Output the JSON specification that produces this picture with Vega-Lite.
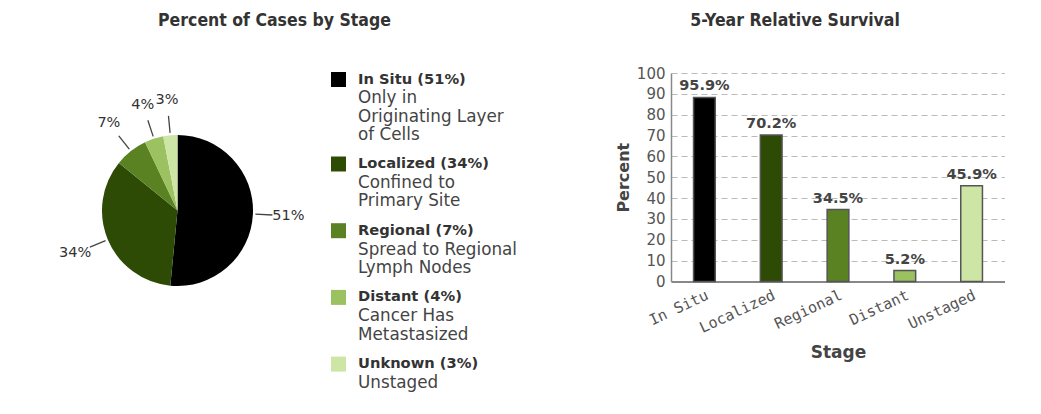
{
  "$schema": "https://vega.github.io/schema/vega-lite/v6.json",
  "background": "white",
  "padding": {"left": 24, "top": 11, "right": 0, "bottom": 0},
  "config": {
    "view": {"stroke": null},
    "font": "DejaVu Sans",
    "title": {"font": "DejaVu Sans Condensed, DejaVu Sans", "fontSize": 17.5, "fontWeight": "bold", "color": "#333333"}
  },
  "datasets": {
    "cases": [
      {"stage": "In Situ", "pct": 0.51, "title": "In Situ (51%)", "desc": ["Only in", "Originating Layer", "of Cells"]},
      {"stage": "Localized", "pct": 0.34, "title": "Localized (34%)", "desc": ["Confined to", "Primary Site"]},
      {"stage": "Regional", "pct": 0.07, "title": "Regional (7%)", "desc": ["Spread to Regional", "Lymph Nodes"]},
      {"stage": "Distant", "pct": 0.04, "title": "Distant (4%)", "desc": ["Cancer Has", "Metastasized"]},
      {"stage": "Unknown", "pct": 0.03, "title": "Unknown (3%)", "desc": ["Unstaged"]}
    ],
    "survival": [
      {"stage": "In Situ", "survival": 0.959, "shown": 88.3},
      {"stage": "Localized", "survival": 0.702, "shown": 70.2},
      {"stage": "Regional", "survival": 0.345, "shown": 34.5},
      {"stage": "Distant", "survival": 0.052, "shown": 5.2},
      {"stage": "Unstaged", "survival": 0.459, "shown": 45.9}
    ]
  },
  "spacing": 97,
  "resolve": {"scale": {"color": "independent"}},
  "hconcat": [
    {
      "bounds": "flush",
      "spacing": 0,
      "hconcat": [
        {
          "width": 307,
          "height": 275,
          "title": {"text": "Percent of Cases by Stage", "frame": "group", "anchor": "middle", "offset": 30, "baseline": "alphabetic", "dx": 97},
          "data": {"name": "cases"},
          "layer": [
            {
              "mark": {"type": "arc", "outerRadius": 75.5},
              "encoding": {
                "theta": {"field": "pct", "type": "quantitative", "stack": true, "scale": {"domain": [0, 0.99]}},
                "order": {"field": "pct", "type": "quantitative", "sort": "descending"},
                "color": {
                  "field": "stage", "type": "nominal", "legend": null,
                  "scale": {"domain": ["In Situ", "Localized", "Regional", "Distant", "Unknown"], "range": ["#000000", "#2e4b06", "#5a8223", "#9bc160", "#cde6a5"]}
                }
              }
            },
            {
              "transform": [
                {"stack": "pct", "groupby": [], "sort": [{"field": "pct", "order": "descending"}], "as": ["s0", "s1"]},
                {"fold": ["s0", "s1"], "as": ["edge", "angleValue"]},
                {"aggregate": [{"op": "mean", "field": "angleValue", "as": "mid"}, {"op": "max", "field": "pct", "as": "pct"}], "groupby": ["stage"]}
              ],
              "layer": [
                {
                  "mark": {"type": "arc", "innerRadius": 78, "outerRadius": 95, "stroke": "#444444", "strokeWidth": 1.3, "fill": null},
                  "encoding": {
                    "theta": {"field": "mid", "type": "quantitative", "stack": null, "scale": {"domain": [0, 0.99]}},
                    "theta2": {"field": "mid"}
                  }
                },
                {
                  "mark": {"type": "text", "radius": 111, "fontSize": 14.5, "color": "#333333", "align": "center", "baseline": "middle"},
                  "encoding": {
                    "theta": {"field": "mid", "type": "quantitative", "stack": null, "scale": {"domain": [0, 0.99]}},
                    "text": {"field": "pct", "type": "quantitative", "format": ".0%"}
                  }
                }
              ]
            }
          ]
        },
        {
          "bounds": "flush",
          "spacing": 44.65,
          "vconcat": [
            {
              "width": 15,
              "height": 13,
              "data": {"name": "cases"},
              "transform": [{"filter": {"field": "stage", "equal": "In Situ"}}],
              "layer": [
                {
                  "mark": {"type": "square", "size": 225, "filled": true, "opacity": 1},
                  "encoding": {
                    "color": {"field": "stage", "type": "nominal", "legend": null,
                      "scale": {"domain": ["In Situ", "Localized", "Regional", "Distant", "Unknown"], "range": ["#000000", "#2e4b06", "#5a8223", "#9bc160", "#cde6a5"]}}
                  }
                },
                {
                  "mark": {"type": "text", "align": "left", "baseline": "middle", "dx": 19.5, "fontSize": 14.7, "fontWeight": "bold", "color": "#333333"},
                  "encoding": {"text": {"field": "title", "type": "nominal"}}
                },
                {
                  "mark": {"type": "text", "align": "left", "baseline": "alphabetic", "dx": 19.5, "dy": 23.8, "fontSize": 16.8, "lineHeight": 18.5, "color": "#444444"},
                  "encoding": {"text": {"field": "desc", "type": "nominal"}}
                }
              ]
            },
            {
              "width": 15,
              "height": 266.8,
              "data": {"name": "cases"},
              "transform": [{"filter": {"not": {"field": "stage", "equal": "In Situ"}}}],
              "encoding": {
                "y": {"field": "stage", "type": "nominal", "sort": {"field": "pct", "order": "descending"}, "scale": {"type": "band", "paddingInner": 0, "paddingOuter": 0}, "axis": null}
              },
              "layer": [
                {
                  "mark": {"type": "square", "size": 225, "filled": true, "opacity": 1},
                  "encoding": {
                    "color": {"field": "stage", "type": "nominal", "legend": null,
                      "scale": {"domain": ["In Situ", "Localized", "Regional", "Distant", "Unknown"], "range": ["#000000", "#2e4b06", "#5a8223", "#9bc160", "#cde6a5"]}}
                  }
                },
                {
                  "mark": {"type": "text", "align": "left", "baseline": "middle", "dx": 19.5, "fontSize": 14.7, "fontWeight": "bold", "color": "#333333"},
                  "encoding": {"text": {"field": "title", "type": "nominal"}}
                },
                {
                  "mark": {"type": "text", "align": "left", "baseline": "alphabetic", "dx": 19.5, "dy": 23.8, "fontSize": 16.8, "lineHeight": 18.5, "color": "#444444"},
                  "encoding": {"text": {"field": "desc", "type": "nominal"}}
                }
              ]
            }
          ]
        }
      ]
    },
    {
      "width": 334,
      "height": 208.4,
      "title": {"text": "5-Year Relative Survival", "frame": "group", "anchor": "middle", "offset": 23, "baseline": "alphabetic", "dx": -43},
      "data": {"name": "survival"},
      "encoding": {
        "x": {
          "field": "stage", "type": "nominal", "sort": null, "title": "Stage",
          "scale": {"paddingInner": 0.675, "paddingOuter": 0.3375},
          "axis": {
            "labelAngle": -25, "labelAlign": "right", "labelBaseline": "top", "labelPadding": 6,
            "labelFont": "DejaVu Sans Mono", "labelFontSize": 15, "labelColor": "#555555",
            "ticks": false, "domainColor": "#888888", "domainWidth": 2,
            "titleFont": "DejaVu Sans", "titleFontSize": 17, "titleFontWeight": "bold", "titleColor": "#444444", "titlePadding": 9
          }
        },
        "y": {
          "field": "shown", "type": "quantitative", "title": "Percent",
          "scale": {"domain": [0, 100], "nice": false},
          "axis": {
            "tickCount": 10,
            "tickMinStep": 10,
            "labelOverlap": false,
            "labelFontSize": 15, "labelColor": "#555555", "labelPadding": 6,
            "ticks": false, "domainColor": "#888888", "domainWidth": 1.5,
            "grid": true, "gridColor": "#bbbbbb", "gridDash": [6, 4], "gridWidth": 1,
            "titleFontSize": 16, "titleFontWeight": "bold", "titleColor": "#444444", "titlePadding": 5
          }
        }
      },
      "layer": [
        {
          "mark": {"type": "bar", "stroke": "#555555", "strokeWidth": 1.5},
          "encoding": {
            "color": {
              "field": "stage", "type": "nominal", "legend": null,
              "scale": {"domain": ["In Situ", "Localized", "Regional", "Distant", "Unstaged"], "range": ["#000000", "#2e4b06", "#5a8223", "#9bc160", "#cde6a5"]}
            }
          }
        },
        {
          "mark": {"type": "text", "baseline": "alphabetic", "dy": -7, "fontSize": 14.5, "fontWeight": "bold", "color": "#444444"},
          "encoding": {
            "text": {"field": "survival", "type": "quantitative", "format": ".1%"}
          }
        }
      ]
    }
  ]
}
